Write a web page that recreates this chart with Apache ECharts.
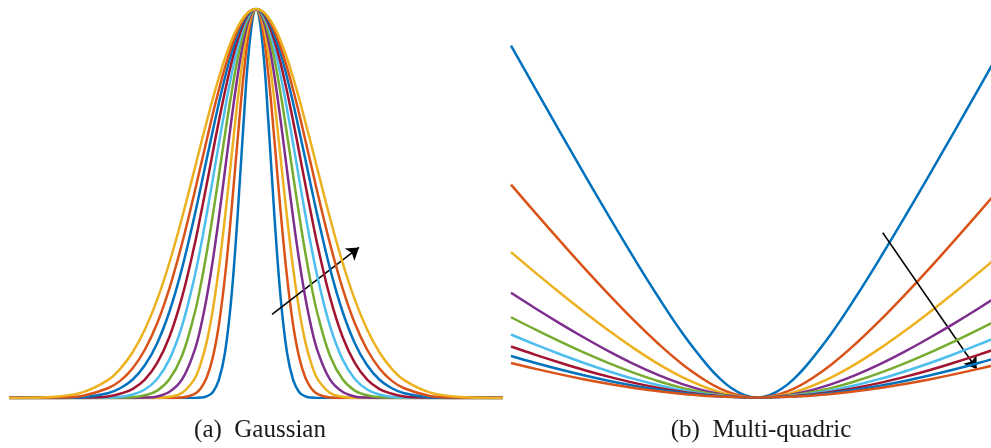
<!DOCTYPE html>
<html>
<head>
<meta charset="utf-8">
<title>Gaussian / Multi-quadric</title>
<script src="https://cdn.jsdelivr.net/npm/echarts/dist/echarts.min.js"></script>
<style>
  html, body { margin: 0; padding: 0; background: #fff; }
  #chart { width: 991px; height: 448px; }
</style>
</head>
<body>
<div id="chart"></div>
<script>
// (a) Gaussian: values at radius r (0..1), one array per curve
const gaussRadius = [0, 0.025, 0.05, 0.075, 0.1, 0.125, 0.15, 0.175, 0.2, 0.225, 0.25, 0.3, 0.35, 0.4, 0.45, 0.5, 0.55, 0.6, 0.7, 0.8, 1.0]
const g1 = [1, 0.918, 0.711, 0.464, 0.256, 0.119, 0.047, 0.015, 0.004, 0.001, 0, 0, 0, 0, 0, 0, 0, 0, 0, 0, 0]
const g2 = [1, 0.955, 0.831, 0.660, 0.477, 0.315, 0.189, 0.104, 0.052, 0.024, 0.010, 0.001, 0, 0, 0, 0, 0, 0, 0, 0, 0]
const g3 = [1, 0.970, 0.886, 0.761, 0.615, 0.468, 0.335, 0.226, 0.143, 0.086, 0.048, 0.013, 0.003, 0, 0, 0, 0, 0, 0, 0, 0]
const g4 = [1, 0.979, 0.919, 0.826, 0.712, 0.588, 0.465, 0.353, 0.257, 0.179, 0.120, 0.047, 0.016, 0.004, 0.001, 0, 0, 0, 0, 0, 0]
const g5 = [1, 0.985, 0.940, 0.870, 0.781, 0.680, 0.574, 0.469, 0.372, 0.286, 0.214, 0.108, 0.049, 0.019, 0.007, 0.002, 0.001, 0, 0, 0, 0]
const g6 = [1, 0.988, 0.954, 0.899, 0.828, 0.745, 0.655, 0.562, 0.471, 0.385, 0.308, 0.184, 0.100, 0.049, 0.022, 0.009, 0.003, 0.001, 0, 0, 0]
const g7 = [1, 0.991, 0.963, 0.919, 0.860, 0.790, 0.713, 0.631, 0.548, 0.467, 0.390, 0.258, 0.158, 0.090, 0.047, 0.023, 0.011, 0.004, 0.001, 0, 0]
const g8 = [1, 0.992, 0.970, 0.933, 0.885, 0.826, 0.759, 0.687, 0.613, 0.538, 0.465, 0.332, 0.223, 0.141, 0.084, 0.047, 0.025, 0.012, 0.002, 0, 0]
const g9 = [1, 0.994, 0.975, 0.944, 0.902, 0.851, 0.793, 0.730, 0.662, 0.594, 0.525, 0.396, 0.283, 0.192, 0.124, 0.076, 0.044, 0.025, 0.006, 0.001, 0]
const g10 = [1, 0.995, 0.979, 0.953, 0.918, 0.875, 0.824, 0.769, 0.709, 0.648, 0.585, 0.462, 0.349, 0.253, 0.176, 0.117, 0.075, 0.046, 0.015, 0.004, 0]

// (b) Multi-quadric: values at radius r (0..1)
const mqRadius = [0, 0.05, 0.1, 0.15, 0.2, 0.3, 0.4, 0.5, 0.6, 0.7, 0.8, 0.9, 1.0]
const mq1 = [1, 1.020, 1.077, 1.166, 1.281, 1.562, 1.887, 2.236, 2.600, 2.973, 3.353, 3.736, 4.123]
const mq2 = [1, 1.009, 1.036, 1.079, 1.137, 1.289, 1.475, 1.684, 1.909, 2.144, 2.388, 2.636, 2.889]
const mq3 = [1, 1.005, 1.021, 1.047, 1.082, 1.176, 1.296, 1.436, 1.590, 1.755, 1.928, 2.106, 2.290]
const mq4 = [1, 1.003, 1.014, 1.030, 1.053, 1.116, 1.198, 1.296, 1.407, 1.528, 1.656, 1.790, 1.929]
const mq5 = [1, 1.002, 1.010, 1.022, 1.038, 1.083, 1.144, 1.218, 1.302, 1.395, 1.496, 1.602, 1.712]
const mq6 = [1, 1.002, 1.007, 1.016, 1.028, 1.062, 1.109, 1.165, 1.231, 1.304, 1.384, 1.469, 1.559]
const mq7 = [1, 1.001, 1.006, 1.012, 1.022, 1.049, 1.085, 1.130, 1.183, 1.242, 1.308, 1.378, 1.452]
const mq8 = [1, 1.001, 1.004, 1.010, 1.017, 1.039, 1.068, 1.104, 1.146, 1.195, 1.248, 1.306, 1.368]
const mq9 = [1, 1.001, 1.004, 1.008, 1.014, 1.031, 1.055, 1.085, 1.120, 1.160, 1.205, 1.254, 1.306]

// arrows (data coords of each panel)
const arrowGauss = [[0.065, 0.215], [0.417, 0.387]]
const arrowMq = [[0.511, 2.462], [0.893, 1.253]]

const captions = ['(a)\u2002Gaussian', '(b)\u2002Multi-quadric']

// matlab default line colours
const colors = ['#0072BD', '#D95319', '#EDB120', '#7E2F8E', '#77AC30', '#4DBEEE', '#A2142F']

// curves are symmetric about r = 0
function mirror (radius, values) {
  const pts = []
  for (let i = radius.length - 1; i > 0; i--) pts.push([-radius[i], values[i]])
  for (let i = 0; i < radius.length; i++) pts.push([radius[i], values[i]])
  return pts
}

function curve (idx, pts, i) {
  return {
    type: 'line',
    xAxisIndex: idx,
    yAxisIndex: idx,
    data: pts,
    smooth: 0.4,
    symbol: 'none',
    silent: true,
    lineStyle: { width: 2.5, color: colors[i % colors.length] },
    z: 2 + i
  }
}

function arrow (pts) {
  return {
    silent: true,
    symbol: ['none', 'arrow'],
    symbolSize: 12,
    label: { show: false },
    lineStyle: { color: '#000', width: 1.5, type: 'solid' },
    data: [[{ coord: pts[0] }, { coord: pts[1] }]]
  }
}

const series = []
;[g1, g2, g3, g4, g5, g6, g7, g8, g9, g10].forEach((v, i) => {
  series.push(curve(0, mirror(gaussRadius, v), i))
})
;[mq1, mq2, mq3, mq4, mq5, mq6, mq7, mq8, mq9].forEach((v, i) => {
  series.push(curve(1, mirror(mqRadius, v), i))
})
series[9].markLine = arrow(arrowGauss)
series[series.length - 1].markLine = arrow(arrowMq)

const captionStyle = {
  fontFamily: 'Liberation Serif',
  fontSize: 25,
  fontWeight: 'normal',
  color: '#1a1a1a'
}

const chart = echarts.init(document.getElementById('chart'))
chart.setOption({
  animation: false,
  backgroundColor: '#fff',
  title: [
    { text: captions[0], left: 255, top: 413, textAlign: 'center', textStyle: captionStyle },
    { text: captions[1], left: 756, top: 413, textAlign: 'center', textStyle: captionStyle }
  ],
  grid: [
    { left: 9, right: 488, top: 9, bottom: 50 },
    { left: 511, right: 0, top: 9, bottom: 50.5 }
  ],
  xAxis: [
    { type: 'value', gridIndex: 0, min: -1, max: 1, show: false },
    { type: 'value', gridIndex: 1, min: -1, max: 0.951, show: false }
  ],
  yAxis: [
    { type: 'value', gridIndex: 0, min: 0, max: 1, show: false },
    { type: 'value', gridIndex: 1, min: 1, max: 4.447, show: false }
  ],
  series: series
})
</script>
</body>
</html>
